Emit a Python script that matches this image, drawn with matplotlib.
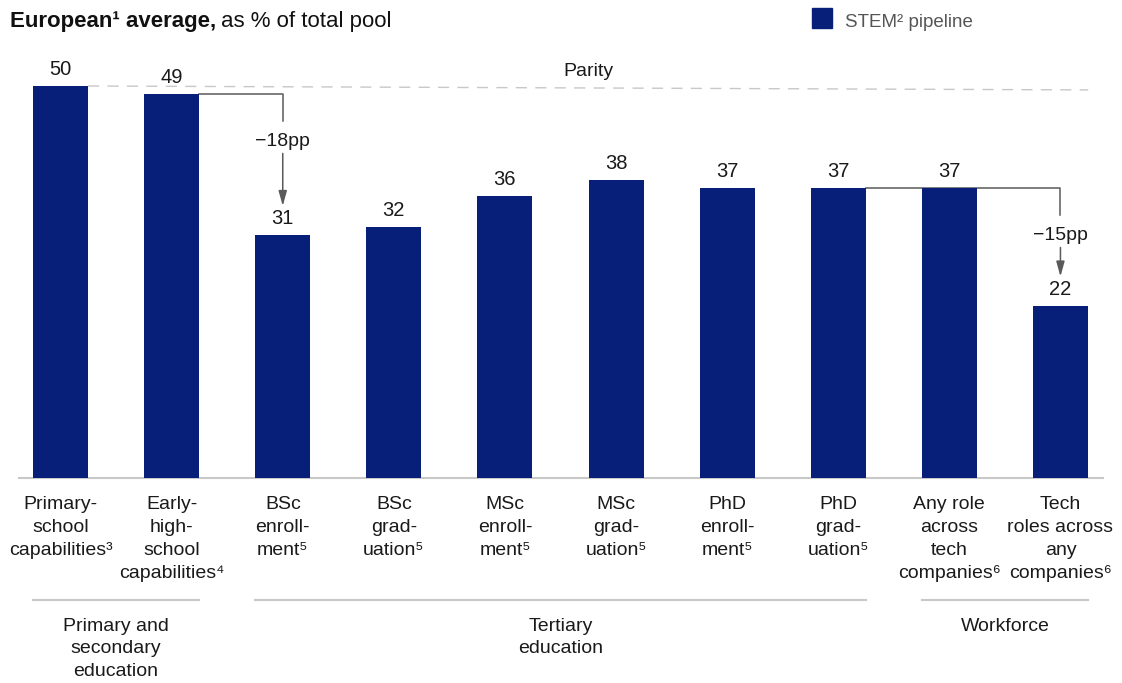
import matplotlib
matplotlib.use("Agg")
import matplotlib.pyplot as plt
from matplotlib.patches import Rectangle

plt.rcParams['font.family'] = ['Liberation Sans', 'DejaVu Sans']

# data
categories = [
    'Primary-\nschool\ncapabilities\u00b3',
    'Early-\nhigh-\nschool\ncapabilities\u2074',
    'BSc\nenroll-\nment\u2075',
    'BSc\ngrad-\nuation\u2075',
    'MSc\nenroll-\nment\u2075',
    'MSc\ngrad-\nuation\u2075',
    'PhD\nenroll-\nment\u2075',
    'PhD\ngrad-\nuation\u2075',
    'Any role\nacross\ntech\ncompanies\u2076',
    'Tech\nroles across\nany\ncompanies\u2076',
]
values = [50, 49, 31, 32, 36, 38, 37, 37, 37, 22]
groups = ['Primary and\nsecondary\neducation', 'Tertiary\neducation', 'Workforce']
group_spans = [(0, 1), (2, 7), (8, 9)]
drops = [(1, 2, '\u221218pp'), (7, 9, '\u221215pp')]

bar_color = '#071f78'
line_gray = '#5a5a5a'
light_gray = '#c8c8c8'
text_color = '#1a1a1a'

W, H = 1122, 683
fig = plt.figure(figsize=(W / 100, H / 100), dpi=100)

# axes placed so that baseline sits at y=478 px and bars are ~111 px apart
x_left, x_right = -0.374, 9.383
y_top = 55
ax = fig.add_axes([19 / W, 1 - 478 / H, (1103 - 19) / W, y_top * 7.84 / H])
ax.set_xlim(x_left, x_right)
ax.set_ylim(0, y_top)
for s in ['top', 'right', 'left']:
    ax.spines[s].set_visible(False)
ax.spines['bottom'].set_color(light_gray)
ax.spines['bottom'].set_linewidth(1.5)
ax.set_yticks([])
ax.set_xticks([])

bw = 0.495
xs = list(range(len(values)))
ax.bar(xs, values, width=bw, color=bar_color, zorder=3)

for x, v in zip(xs, values):
    ax.text(x, v + 1.4, str(v), ha='center', va='baseline', fontsize=14.5, color=text_color)

# category labels
for x, lab in zip(xs, categories):
    ax.text(x, -2.3, lab, ha='center', va='top', fontsize=14, color=text_color,
            linespacing=1.45, clip_on=False)

# parity line
ax.plot([bw / 2, 9.25], [50, 49.5], color=light_gray, lw=1, ls=(0, (8, 6)), zorder=1)
ax.text(4.75, 51.3, 'Parity', ha='center', va='baseline', fontsize=14, color=text_color)

# drop brackets
for i, j, lab in drops:
    top = values[i]
    low = values[j]
    ax.plot([i + bw / 2, j, j], [top, top, top - 3.45], color=line_gray, lw=1.1, zorder=2)
    ax.text(j, top - 6.6, lab, ha='center', va='baseline', fontsize=14, color=text_color)
    ax.annotate('', xy=(j, low + 3.7), xytext=(j, top - 7.6),
                arrowprops=dict(arrowstyle='-|>,head_length=0.9,head_width=0.25',
                                color=line_gray, lw=1.1, shrinkA=0, shrinkB=0))

# group brackets
for (a, b), g in zip(group_spans, groups):
    ax.plot([a - bw / 2, b + bw / 2], [-15.56, -15.56], color=light_gray, lw=1.5, clip_on=False)
    ax.text((a + b) / 2, -17.8, g, ha='center', va='top', fontsize=14, color=text_color,
            linespacing=1.45, clip_on=False)

# title
t1 = fig.text(10 / W, 1 - 27 / H, 'European\u00b9 average,', fontsize=16,
              fontweight='bold', color='#111111', va='baseline')
fig.canvas.draw()
bb = t1.get_window_extent(renderer=fig.canvas.get_renderer())
fig.text((bb.x1 + 5) / W, 1 - 27 / H, 'as % of total pool', fontsize=16,
         color='#111111', va='baseline')

# legend
fig.add_artist(Rectangle((812 / W, 1 - 28 / H), 20 / W, 20 / H, transform=fig.transFigure,
                         color=bar_color))
fig.text(845 / W, 1 - 27 / H, 'STEM\u00b2 pipeline', fontsize=13.5, color='#555555',
         va='baseline')

fig.savefig('out.png', dpi=100)
